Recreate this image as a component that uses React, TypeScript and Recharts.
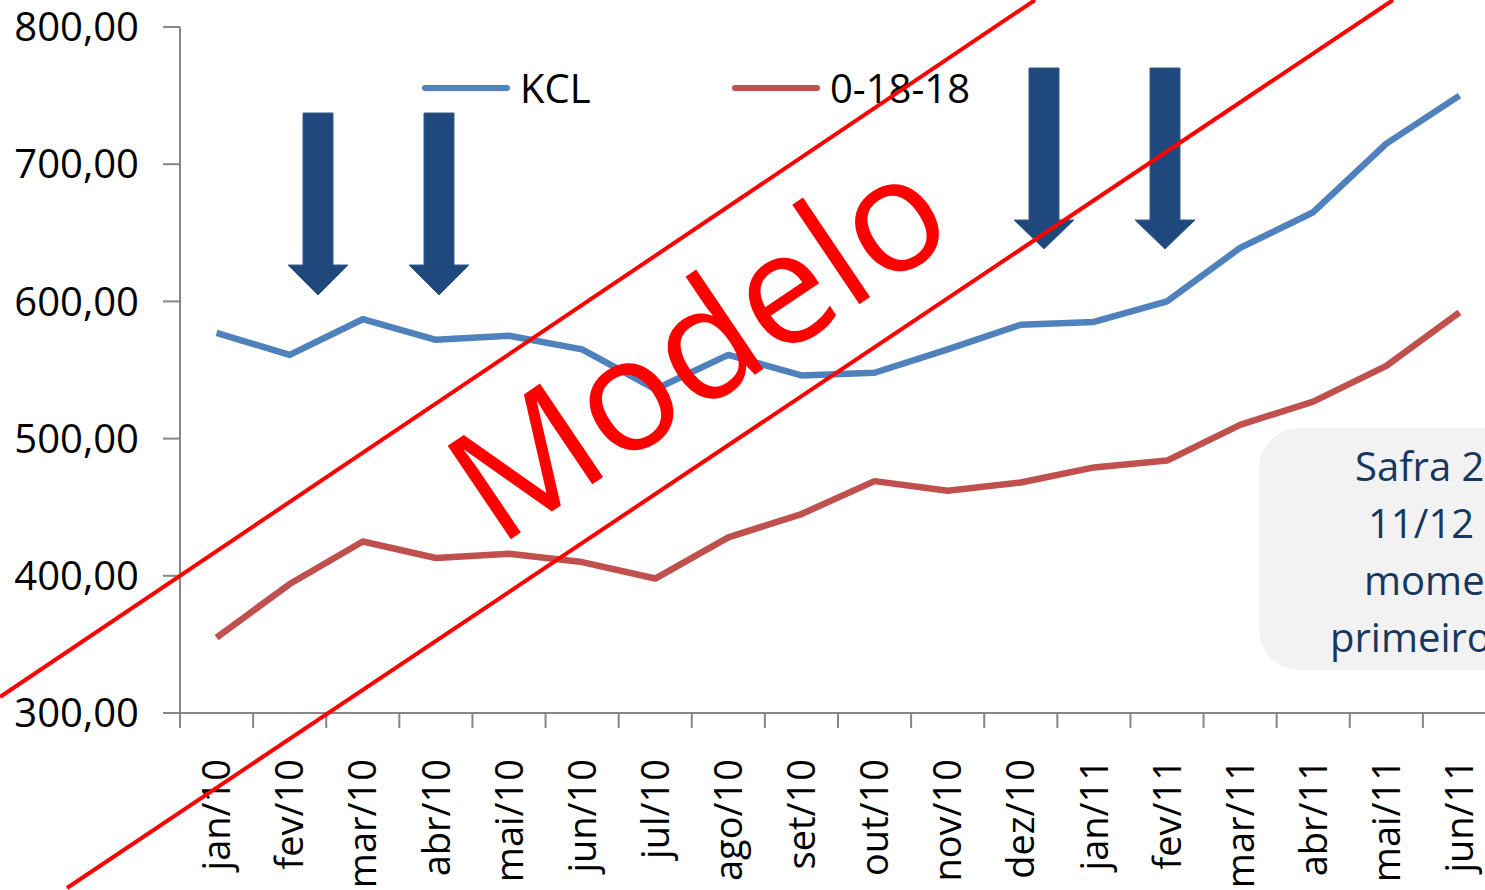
import React from "react";
import { LineChart, Line, XAxis, YAxis, Legend } from "recharts";

const categories = [
  "jan/10", "fev/10", "mar/10", "abr/10", "mai/10", "jun/10", "jul/10", "ago/10", "set/10",
  "out/10", "nov/10", "dez/10", "jan/11", "fev/11", "mar/11", "abr/11", "mai/11", "jun/11",
];
const kcl = [577, 561, 587, 572, 575, 565, 536, 561, 546, 548, 565, 583, 585, 600, 639, 665, 715, 750];
const npk = [355, 394, 425, 413, 416, 410, 398, 428, 445, 469, 462, 468, 479, 484, 510, 527, 553, 592];
const seriesNames = ["KCL", "0-18-18"];
const yTicks = [300, 400, 500, 600, 700, 800];
const noteLines = ["Safra 2", "11/12", "momen", "primeiro"];

const data = categories.map((mes, i) => ({ mes, kcl: kcl[i], npk: npk[i] }));

const CHART_W = 1500;
const CHART_H = 890;
const LEFT = 180;
const RIGHT = 4;
const BAND = (CHART_W - LEFT - RIGHT) / categories.length;
const AXIS = "#868686";
const FONT = "'Open Sans', sans-serif";

const fmt = (v: number) => v.toFixed(2).replace(".", ",");

function MonthTick(props: any) {
  const { x, y, payload } = props;
  const tx = x;
  const ty = y + 46;
  return (
    <g>
      <line x1={x - BAND / 2} y1={y} x2={x - BAND / 2} y2={y + 15} stroke={AXIS} strokeWidth={2} />
      <text
        x={tx}
        y={ty}
        transform={`rotate(-90 ${tx} ${ty})`}
        textAnchor="end"
        dy="0.36em"
        fontSize={38}
        fontFamily={FONT}
        fill="#000"
      >
        {payload.value}
      </text>
    </g>
  );
}

function LegendBox(props: any) {
  const { payload = [] } = props;
  const items = seriesNames
    .map((n) => payload.find((p: any) => p.value === n))
    .filter(Boolean);
  return (
    <div style={{ display: "flex" }}>
      {items.map((p: any) => (
        <div key={p.value} style={{ width: 310, display: "flex", alignItems: "center" }}>
          <svg width={90} height={10}>
            <line x1={4} y1={5} x2={86} y2={5} stroke={p.color} strokeWidth={6} strokeLinecap="round" />
          </svg>
          <span style={{ marginLeft: 9, fontSize: 40, fontFamily: FONT, lineHeight: "50px", color: "#000" }}>
            {p.value}
          </span>
        </div>
      ))}
    </div>
  );
}

function Arrow({ cx, top, headTop, tip }: { cx: number; top: number; headTop: number; tip: number }) {
  const pts = [
    [cx - 15, top], [cx + 15, top], [cx + 15, headTop], [cx + 30, headTop],
    [cx, tip], [cx - 30, headTop], [cx - 15, headTop],
  ].map((p) => p.join(",")).join(" ");
  return <polygon points={pts} fill="#1F497D" stroke="#385D8A" strokeWidth={1} />;
}

export default function App() {
  return (
    <div style={{ position: "absolute", left: 0, top: 0, width: 1485, height: 890, overflow: "hidden", background: "#fff" }}>
      <LineChart width={CHART_W} height={CHART_H} data={data} margin={{ top: 27, right: RIGHT, left: 0, bottom: 0 }}>
        <XAxis
          dataKey="mes"
          scale="band"
          interval={0}
          height={177}
          tickSize={0}
          tickMargin={0}
          axisLine={{ stroke: AXIS, strokeWidth: 2 }}
          tickLine={false}
          tick={<MonthTick />}
        />
        <YAxis
          width={LEFT}
          domain={[300, 800]}
          ticks={yTicks}
          interval={0}
          tickFormatter={fmt}
          tickSize={17}
          tickMargin={24}
          axisLine={{ stroke: AXIS, strokeWidth: 2 }}
          tickLine={{ stroke: AXIS, strokeWidth: 2 }}
          tick={{ fill: "#000", fontSize: 40, fontFamily: FONT }}
        />
        <Legend
          layout="horizontal"
          verticalAlign="middle"
          align="center"
          wrapperStyle={{ top: 63, left: 421, width: 700 }}
          content={<LegendBox />}
        />
        <Line
          type="linear"
          dataKey="kcl"
          name={seriesNames[0]}
          stroke="#4F81BD"
          strokeWidth={6.5}
          strokeLinejoin="round"
          dot={false}
          isAnimationActive={false}
        />
        <Line
          type="linear"
          dataKey="npk"
          name={seriesNames[1]}
          stroke="#C0504D"
          strokeWidth={6.5}
          strokeLinejoin="round"
          dot={false}
          isAnimationActive={false}
        />
      </LineChart>
      <svg width={1485} height={890} style={{ position: "absolute", left: 0, top: 0, pointerEvents: "none" }}>
        <Arrow cx={318} top={113} headTop={265} tip={295} />
        <Arrow cx={439} top={113} headTop={265} tip={295} />
        <Arrow cx={1044} top={68} headTop={220} tip={249} />
        <Arrow cx={1165} top={68} headTop={220} tip={249} />
        <rect x={1259} y={428} width={320} height={242} rx={40} fill="#F2F2F2" />
        <text fontSize={40} fontFamily={FONT} fill="#17375E">
          <tspan x={1355} y={481}>{noteLines[0]}</tspan>
          <tspan x={1368} y={538}>{noteLines[1]}</tspan>
          <tspan x={1364} y={595}>{noteLines[2]}</tspan>
          <tspan x={1330} y={652}>{noteLines[3]}</tspan>
        </text>
        <line x1={0} y1={697} x2={1035} y2={0} stroke="#FF0000" strokeWidth={4} />
        <line x1={67} y1={888} x2={1393} y2={0} stroke="#FF0000" strokeWidth={4} />
        <text
          x={498}
          y={548}
          transform="rotate(-34 498 548)"
          fontSize={158}
          fontFamily={FONT}
          fill="#FF0000"
        >
          Modelo
        </text>
      </svg>
    </div>
  );
}
